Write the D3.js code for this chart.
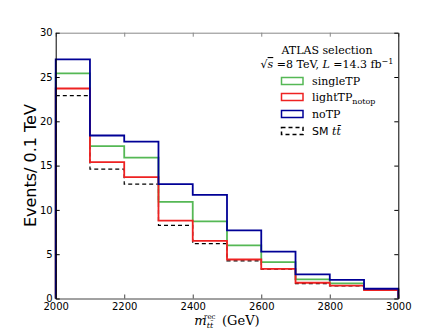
<!DOCTYPE html>
<html>
<head>
<meta charset="utf-8">
<script src="https://cdn.jsdelivr.net/npm/d3@7"></script>
<style>
  body { margin: 0; background: #fff; }
  svg text { fill: #000; }
  .tick-label { font-family: "DejaVu Sans", sans-serif; font-size: 10px; }
  .serif { font-family: "DejaVu Serif", "Liberation Serif", serif; }
</style>
</head>
<body>
<div id="chart"></div>
<script>
// bin edges in GeV
var binEdges = [2000, 2100, 2200, 2300, 2400, 2500, 2600, 2700, 2800, 2900, 3000];

// events per bin
var singleTP = [25.4, 17.2, 15.9, 10.9, 8.7, 6.0, 4.1, 2.15, 1.7, 1.0];
var lightTP = [23.7, 15.4, 13.7, 8.8, 6.5, 4.4, 3.35, 1.78, 1.45, 0.96];
var noTP = [27.0, 18.4, 17.7, 12.9, 11.7, 7.7, 5.3, 2.72, 2.1, 1.1];
var smTT = [22.9, 14.6, 12.9, 8.25, 6.2, 4.25, 3.3, 1.68, 1.42, 0.94];

var xTicks = [2000, 2200, 2400, 2600, 2800, 3000];
var yTicks = [0, 5, 10, 15, 20, 25, 30];

var width = 443, height = 332;
var margin = {left: 55.7, right: 44.7, top: 32.7, bottom: 33.5};

var svg = d3.select("#chart").append("svg")
    .attr("width", width)
    .attr("height", height);

var x = d3.scaleLinear().domain([2000, 3000]).range([margin.left, width - margin.right]);
var y = d3.scaleLinear().domain([0, 30]).range([height - margin.bottom, margin.top]);

// step outline like a histtype='step' histogram
function stepPoints(values) {
    var pts = [[binEdges[0], 0]];
    values.forEach(function(v, i) {
        pts.push([binEdges[i], v]);
        pts.push([binEdges[i + 1], v]);
    });
    pts.push([binEdges[binEdges.length - 1], 0]);
    return pts;
}

var line = d3.line()
    .x(function(d) { return x(d[0]); })
    .y(function(d) { return y(d[1]); });

var series = [
    {name: "smTT", values: smTT, color: "#000", dash: "4,3", width: 1.2},
    {name: "singleTP", values: singleTP, color: "#55b855", dash: null, width: 1.8},
    {name: "lightTP", values: lightTP, color: "#ee2222", dash: null, width: 1.8},
    {name: "noTP", values: noTP, color: "#000096", dash: null, width: 1.8}
];

var plot = svg.append("g");
plot.selectAll("path.hist")
    .data(series)
    .enter().append("path")
    .attr("class", "hist")
    .attr("d", function(s) { return line(stepPoints(s.values)); })
    .attr("fill", "none")
    .attr("stroke", function(s) { return s.color; })
    .attr("stroke-width", function(s) { return s.width; })
    .attr("stroke-dasharray", function(s) { return s.dash; });

// axes, ticks pointing inward
var fmt = d3.format("d");
var axisBottomG = svg.append("g")
    .attr("transform", "translate(0," + y(0) + ")")
    .call(d3.axisBottom(x).tickValues(xTicks).tickFormat(fmt).tickSizeInner(-4).tickSizeOuter(0).tickPadding(4));
var axisTopG = svg.append("g")
    .attr("transform", "translate(0," + y(30) + ")")
    .call(d3.axisTop(x).tickValues(xTicks).tickSizeInner(-4).tickSizeOuter(0).tickFormat(""));
var axisLeftG = svg.append("g")
    .attr("transform", "translate(" + x(2000) + ",0)")
    .call(d3.axisLeft(y).tickValues(yTicks).tickFormat(fmt).tickSizeInner(-4).tickSizeOuter(0).tickPadding(3));
var axisRightG = svg.append("g")
    .attr("transform", "translate(" + x(3000) + ",0)")
    .call(d3.axisRight(y).tickValues(yTicks).tickSizeInner(-4).tickSizeOuter(0).tickFormat(""));

var spineColors = ["#444", "#888", "#000", "#000"];
[axisBottomG, axisTopG, axisLeftG, axisRightG].forEach(function(g, i) {
    g.select(".domain").attr("stroke", spineColors[i]).attr("stroke-width", 1);
    g.selectAll(".tick line").attr("stroke", spineColors[i]);
    g.selectAll(".tick text").attr("class", "tick-label");
    g.attr("font-size", null).attr("font-family", null);
});

// axis titles
svg.append("text")
    .attr("transform", "translate(36," + (margin.top + (y(0) - margin.top) / 2) + ") rotate(-90)")
    .attr("text-anchor", "middle")
    .style("font-family", "DejaVu Sans, sans-serif")
    .style("font-size", "16px")
    .text("Events/ 0.1 TeV");

var xlab = svg.append("text")
    .attr("class", "serif")
    .attr("x", 227)
    .attr("y", 325)
    .attr("text-anchor", "middle")
    .style("font-size", "13px");
xlab.append("tspan").style("font-style", "italic").text("m");
xlab.append("tspan").attr("dy", 3).style("font-style", "italic").style("font-size", "8px").text("t\u0074\u0304");
xlab.append("tspan").attr("dx", -9).attr("dy", -9).style("font-size", "7px").text("rec");
xlab.append("tspan").attr("dy", 6).text("\u2002(GeV)");

// legend
var legend = svg.append("g").attr("class", "serif").style("font-size", "11px");
legend.append("text")
    .attr("x", 327).attr("y", 54)
    .attr("text-anchor", "middle")
    .text("ATLAS selection");
var sub = legend.append("text")
    .attr("x", 327).attr("y", 68)
    .attr("text-anchor", "middle");
sub.append("tspan").text("\u221A");
sub.append("tspan").style("font-style", "italic").style("text-decoration", "overline").text("s");
sub.append("tspan").text(" =8 TeV, ");
sub.append("tspan").style("font-style", "italic").text("L");
sub.append("tspan").text(" =14.3 fb");
sub.append("tspan").attr("dy", -4).style("font-size", "8px").text("\u22121");

var legendNames = ["singleTP", "lightTP", "noTP", "SM"];
var legendRows = [series[1], series[2], series[3], series[0]];
var rowY = [81, 97, 114, 131];

legendRows.forEach(function(s, i) {
    legend.append("rect")
        .attr("x", 281.5).attr("y", rowY[i] - 3.5)
        .attr("width", 21.5).attr("height", 7)
        .attr("fill", "none")
        .attr("stroke", s.color)
        .attr("stroke-width", 1.5)
        .attr("stroke-dasharray", s.dash);
    var t = legend.append("text").attr("x", 312).attr("y", rowY[i] + 4);
    if (i === 1) {
        t.append("tspan").text("lightTP");
        t.append("tspan").attr("dy", 3).style("font-size", "8px").text("notop");
    } else if (i === 3) {
        t.append("tspan").style("font-family", "DejaVu Sans, sans-serif").text("SM ");
        t.append("tspan").style("font-style", "italic").text("t\u0074\u0304");
    } else {
        t.text(legendNames[i]);
    }
});
</script>
</body>
</html>
